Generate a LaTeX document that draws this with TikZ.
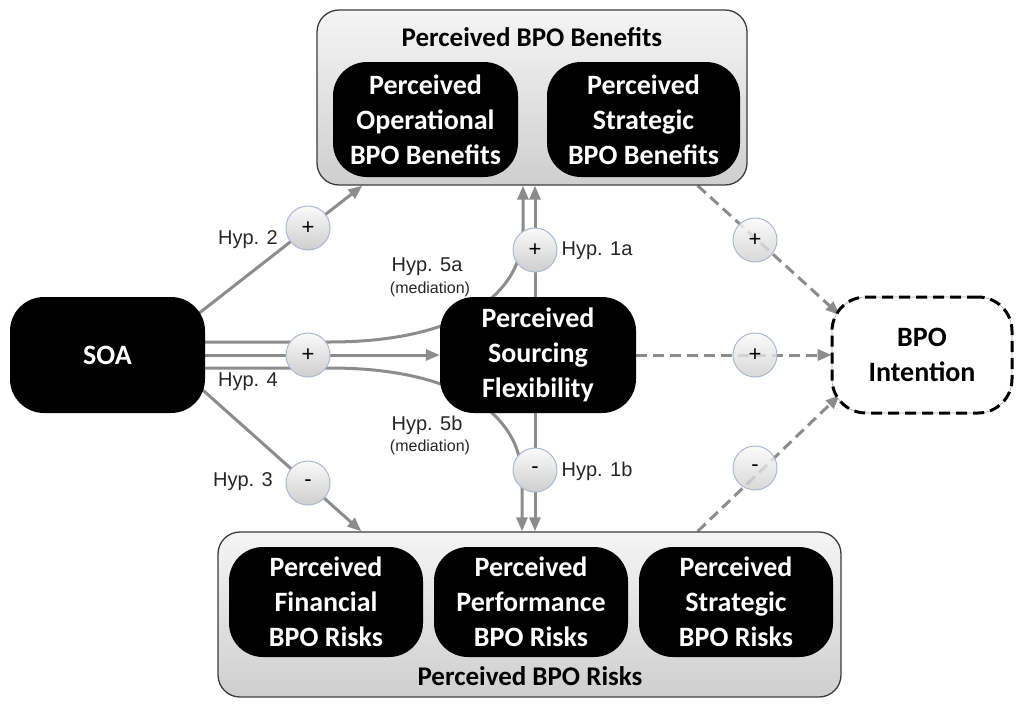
\documentclass[tikz,border=0pt]{standalone}
\usepackage{fontspec}
\setmainfont{Carlito}
\newfontfamily\labelfont{Liberation Sans}
\usetikzlibrary{arrows.meta,calc,backgrounds}
\definecolor{linegray}{RGB}{140,140,140}
\definecolor{ringblue}{RGB}{170,185,210}
\definecolor{framegray}{RGB}{60,60,60}

\begin{document}
\begin{tikzpicture}[x=1pt,y=-1pt,
  blackbox/.style={fill=black,text=white,rounded corners=34pt,inner sep=0pt,align=center,
    font=\bfseries\fontsize{28}{35}\selectfont},
  panel/.style={draw=framegray,line width=1.3pt,rounded corners=22pt,top color=gray!8,bottom color=gray!38,inner sep=0pt},
  paneltitle/.style={font=\bfseries\fontsize{27}{30}\selectfont},
  sign/.style={circle,minimum size=44pt,inner sep=0pt,draw=ringblue,line width=1pt,
    top color=gray!4,bottom color=gray!38,font=\labelfont\fontsize{22}{22}\selectfont},
  hyp/.style={font=\labelfont\fontsize{20}{22}\selectfont,text=black!85},
  note/.style={font=\labelfont\fontsize{16}{18}\selectfont,text=black!85},
  link/.style={draw=linegray,line width=3pt,-{Triangle[length=14pt,width=11pt]}},
  dlink/.style={link,dash pattern=on 11pt off 6pt},
]
\useasboundingbox (0,0) rectangle (1017,704);

% benefits group
\node[panel,minimum width=430pt,minimum height=175pt] (ben) at (532,97.5) {};
\node[paneltitle] (bentitle) at (532,37) {Perceived BPO Benefits};
\node[blackbox,minimum width=185pt,minimum height=115pt] (opben) at (425.5,119.5) {Perceived\\Operational\\BPO Benefits};
\node[blackbox,minimum width=193pt,minimum height=115pt] (stben) at (643.5,119.5) {Perceived\\Strategic\\BPO Benefits};

% risks group
\node[panel,minimum width=623pt,minimum height=165pt] (risk) at (529.5,614.5) {};
\node[paneltitle] (risktitle) at (530,676) {Perceived BPO Risks};
\node[blackbox,minimum width=194pt,minimum height=110pt] (finrisk) at (326,602) {Perceived\\Financial\\BPO Risks};
\node[blackbox,minimum width=194pt,minimum height=110pt] (perfrisk) at (531,602) {Perceived\\Performance\\BPO Risks};
\node[blackbox,minimum width=194pt,minimum height=110pt] (strrisk) at (736,602) {Perceived\\Strategic\\BPO Risks};

% middle row
\node[blackbox,minimum width=195pt,minimum height=116pt] (soa) at (107.5,355) {SOA};
\node[blackbox,minimum width=196pt,minimum height=116pt] (psf) at (538,355) {Perceived\\Sourcing\\Flexibility};
\node[fill=white,draw=gray!70,line width=0.6pt,rounded corners=34pt,minimum width=180pt,minimum height=116pt,
  align=center,font=\bfseries\fontsize{28}{35}\selectfont,
  postaction={draw=black,line width=3pt,dash pattern=on 11pt off 6pt}] (intent) at (922,355) {BPO\\Intention};

% sign markers
\node[sign] (s2) at (308,228) {+};
\node[sign] (s4) at (308,355) {+};
\node[sign] (s3) at (308,483) {-};
\node[sign] (s1a) at (535,250) {+};
\node[sign] (s1b) at (535,470) {-};
\node[sign,fill opacity=.8,text opacity=1] (sr1) at (755,240) {+};
\node[sign,fill opacity=.8,text opacity=1] (sr2) at (755,355) {+};
\node[sign,fill opacity=.8,text opacity=1] (sr3) at (755,468) {-};

% hypothesis labels
\node[hyp] (l2) at (248,240) {Hyp. 2};
\node[hyp] (l4) at (248,382) {Hyp. 4};
\node[hyp] (l3) at (243,482) {Hyp. 3};
\node[hyp] (l5a) at (427,267) {Hyp. 5a};
\node[note] (m5a) at (430,289) {(mediation)};
\node[hyp] (l5b) at (427,425) {Hyp. 5b};
\node[note] (m5b) at (430,447) {(mediation)};
\node[hyp] (l1a) at (597,251) {Hyp. 1a};
\node[hyp] (l1b) at (597,471) {Hyp. 1b};

% connector end points
\coordinate (a2) at ($(soa.center)+(42.5,-3.5)$);
\coordinate (b2) at ($(ben.south west)+(46,0)$);
\coordinate (a3) at ($(soa.center)+(42.5,-12)$);
\coordinate (b3) at ($(risk.north west)+(144,0)$);
\coordinate (a5a) at ($(soa.center)+(0,-13)$);
\coordinate (e5a) at ($(ben.south)+(-9,0)$);
\coordinate (a5b) at ($(soa.center)+(0,13)$);
\coordinate (e5b) at ($(risk.north)+(-7.5,0)$);
\coordinate (d1s) at ($(ben.south east)+(-50,0)$);
\coordinate (d1e) at ($(intent.west)+(8,-40)$);
\coordinate (d3s) at ($(risk.north east)+(-144,0)$);
\coordinate (d3e) at ($(intent.west)+(8,40)$);

\begin{scope}[on background layer]
  % SOA effects
  \draw[link] (a2) -- (b2);
  \draw[link] (a3) -- (b3);
  \draw[link] (soa) -- (psf);
  % mediation paths
  \draw[link] (a5a) -- (330,342) .. controls (450,342) and (523,300) .. (523,230) -- (e5a);
  \draw[link] (a5b) -- (330,368) .. controls (450,368) and (522,410) .. (522,480) -- (e5b);
  % flexibility effects
  \draw[link] (psf.north -| s1a) -- (ben.south -| s1a);
  \draw[link] (psf.south -| s1b) -- (risk.north -| s1b);
  % effects on intention
  \draw[dlink] (d1s) -- (d1e);
  \draw[dlink] (psf) -- (intent);
  \draw[dlink] (d3s) -- (d3e);
\end{scope}
\end{tikzpicture}
\end{document}
